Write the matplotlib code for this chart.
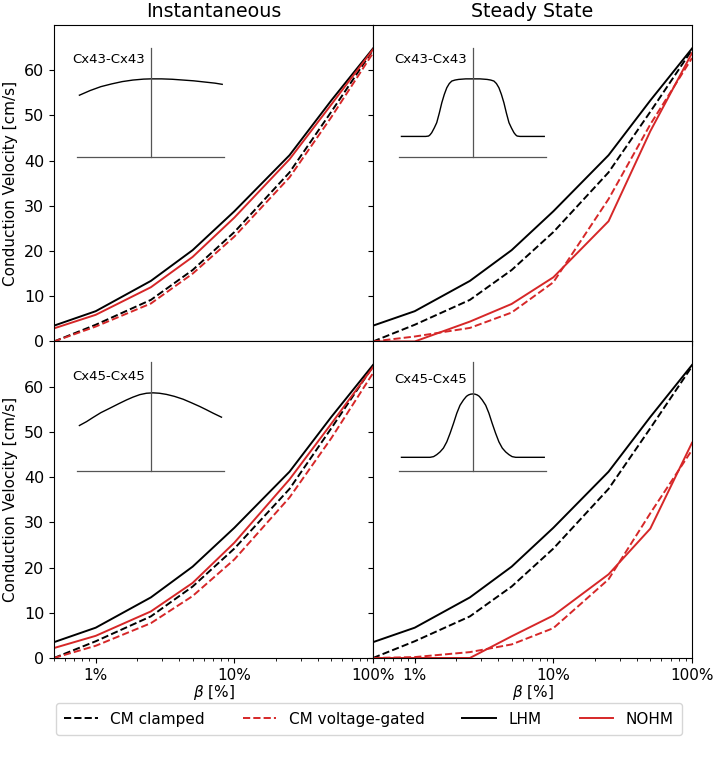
import numpy as np
import matplotlib
matplotlib.use('Agg')
import matplotlib.pyplot as plt
from matplotlib.ticker import FuncFormatter, NullFormatter

# beta values (percent) at which the conduction velocities were computed
beta = [0.5, 1, 2.5, 5, 10, 25, 50, 100]

# LHM and clamped CM are the same in every panel
lhm = [3.5, 6.7, 13.4, 20.2, 28.8, 41.2, 53.3, 64.8]
cm_clamped = [0, 3.7, 9.2, 15.8, 24.2, 37.4, 50.8, 64.5]

# Cx43-Cx43
nohm_inst_43 = [2.9, 5.9, 12.0, 18.7, 27.4, 40.3, 52.4, 64.6]
cm_vg_inst_43 = [0, 3.3, 8.4, 15.0, 23.2, 36.3, 49.6, 63.8]
nohm_ss_43 = [0, 0, 4.4, 8.3, 14.2, 26.6, 46.5, 63.8]
cm_vg_ss_43 = [0, 1.1, 3.0, 6.4, 13.1, 31.5, 48.0, 62.7]

# Cx45-Cx45
nohm_inst_45 = [2.2, 4.9, 10.3, 16.6, 25.5, 39.5, 51.8, 64.3]
cm_vg_inst_45 = [0, 2.7, 7.7, 13.7, 21.8, 35.5, 48.6, 63.0]
nohm_ss_45 = [0, 0, 0, 4.8, 9.4, 18.5, 28.6, 47.6]
cm_vg_ss_45 = [0, 0.2, 1.3, 3.0, 6.6, 17.4, 32.0, 46.0]

# gating profiles drawn in the insets (normalised junctional voltage vs conductance)
vj_43_inst = [-1, -0.85, -0.7, -0.55, -0.4, -0.25, -0.1, 0, 0.15, 0.3, 0.45, 0.6, 0.75, 0.9, 1]
g_43_inst = [0.79, 0.85, 0.9, 0.935, 0.965, 0.985, 0.997, 1.0, 1.0, 0.995, 0.985, 0.975, 0.96, 0.945, 0.93]

vj_43_ss = [-1, -0.66, -0.62, -0.6, -0.576, -0.54, -0.506, -0.47, -0.435, -0.4, -0.365, -0.33,
            -0.295, -0.25, -0.2, -0.1, 0, 0.1, 0.2, 0.25, 0.295, 0.33, 0.365, 0.4, 0.435,
            0.47, 0.506, 0.54, 0.576, 0.6, 0.62, 0.66, 1]
g_43_ss = [0.26, 0.26, 0.265, 0.28, 0.308, 0.37, 0.437, 0.56, 0.693, 0.8, 0.886, 0.94,
           0.972, 0.985, 0.993, 1.0, 1.0, 1.0, 0.993, 0.985, 0.972, 0.94, 0.886, 0.8, 0.693,
           0.56, 0.437, 0.37, 0.308, 0.28, 0.265, 0.26, 0.26]

vj_45_inst = [-1, -0.9, -0.81, -0.7, -0.575, -0.45, -0.34, -0.25, -0.154, -0.06, 0.033,
              0.12, 0.22, 0.33, 0.453, 0.57, 0.687, 0.78, 0.874, 0.99]
g_45_inst = [0.58, 0.63, 0.683, 0.745, 0.802, 0.86, 0.909, 0.945, 0.977, 0.995, 1.0,
             0.995, 0.98, 0.955, 0.918, 0.872, 0.824, 0.782, 0.738, 0.687]

vj_45_ss = [-1, -0.6, -0.55, -0.506, -0.46, -0.412, -0.365, -0.318, -0.27, -0.225, -0.18,
            -0.131, -0.09, -0.061, -0.03, 0, 0.03, 0.061, 0.09, 0.131, 0.18, 0.225, 0.27,
            0.318, 0.365, 0.412, 0.46, 0.506, 0.55, 0.6, 1]
g_45_ss = [0.171, 0.171, 0.18, 0.205, 0.24, 0.29, 0.37, 0.482, 0.61, 0.738, 0.84,
           0.909, 0.955, 0.973, 0.983, 0.986, 0.983, 0.973, 0.955, 0.909, 0.84, 0.738, 0.61,
           0.482, 0.37, 0.29, 0.24, 0.205, 0.18, 0.171, 0.171]

titles = ['Instantaneous', 'Steady State']
inset_labels = ['Cx43-Cx43', 'Cx45-Cx45']

red = '#d62728'

fig, axes = plt.subplots(2, 2, sharex=True, sharey=True, figsize=(7.16, 7.57), dpi=100)
fig.subplots_adjust(left=0.0754, right=0.9665, top=0.967, bottom=0.1308, wspace=0, hspace=0)

panels = [
    [(cm_vg_inst_43, nohm_inst_43, vj_43_inst, g_43_inst), (cm_vg_ss_43, nohm_ss_43, vj_43_ss, g_43_ss)],
    [(cm_vg_inst_45, nohm_inst_45, vj_45_inst, g_45_inst), (cm_vg_ss_45, nohm_ss_45, vj_45_ss, g_45_ss)],
]

inset_left = [0.073, 0.0825]
inset_bottom = [0.584, 0.592]
text_y = [[0.895, 0.89], [0.865, 0.84]]

for i in range(2):
    for j in range(2):
        ax = axes[i, j]
        cm_vg, nohm, vj, g = panels[i][j]

        ax.plot(beta, cm_clamped, color='black', ls='--', lw=1.4, label='CM clamped')
        ax.plot(beta, cm_vg, color=red, ls='--', lw=1.4, label='CM voltage-gated')
        ax.plot(beta, lhm, color='black', lw=1.4, label='LHM')
        ax.plot(beta, nohm, color=red, lw=1.4, label='NOHM')

        ax.set_xscale('log')
        ax.set_xlim(0.5, 100)
        ax.set_ylim(0, 70)
        ax.set_yticks(range(0, 61, 10))
        ax.tick_params(labelsize=11)
        ax.tick_params(axis='y', labelsize=11.5)

        # little inset showing the gating curve
        ins = ax.inset_axes([inset_left[j], inset_bottom[i], 0.461, 0.344])
        ins.plot(vj, g, color='black', lw=1)
        ins.set_xlim(-1.03, 1.03)
        ins.set_ylim(0, 1.4)
        ins.patch.set_alpha(0)
        ins.spines['top'].set_visible(False)
        ins.spines['right'].set_visible(False)
        ins.spines['left'].set_position(('data', 0))
        ins.spines['left'].set_color('#555555')
        ins.spines['bottom'].set_color('#555555')
        ins.spines['left'].set_linewidth(0.9)
        ins.spines['bottom'].set_linewidth(0.9)
        ins.set_xticks([])
        ins.set_yticks([])
        ins.text(0.215, text_y[i][j], inset_labels[i], transform=ins.transAxes,
                 ha='center', va='center', fontsize=9.5)

for j in range(2):
    axes[0, j].set_title(titles[j], fontsize=13.7)
    axes[1, j].set_xlabel(r'$\beta$ [%]', fontsize=11, labelpad=0)
    axes[1, j].xaxis.set_major_formatter(FuncFormatter(lambda v, p: '{:g}%'.format(v)))
    axes[1, j].xaxis.set_minor_formatter(NullFormatter())

for i in range(2):
    axes[i, 0].set_ylabel('Conduction Velocity [cm/s]', fontsize=11)

handles, labels = axes[0, 0].get_legend_handles_labels()
fig.legend(handles, labels, loc='upper center', bbox_to_anchor=(0.515, 0.081), ncol=4,
           fontsize=11, columnspacing=2.5, handlelength=2.2, borderpad=0.55)

fig.savefig('out.png', dpi=100)
